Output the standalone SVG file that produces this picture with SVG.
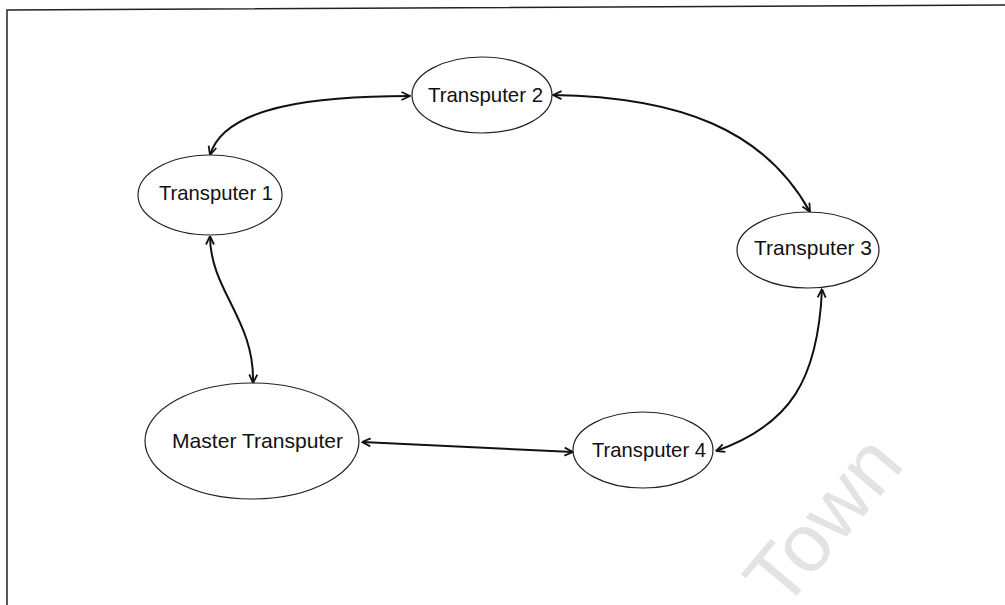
<svg xmlns="http://www.w3.org/2000/svg" width="1005" height="605" viewBox="0 0 1005 605">
<style>
.node ellipse{fill:#fff;stroke:#222;stroke-width:1.2}
.node text{font-family:"Liberation Sans",Arial,sans-serif;font-size:21px;fill:#111;text-anchor:middle}
.conn{fill:none;stroke:#111;stroke-width:2;marker-start:url(#arr);marker-end:url(#arr)}
</style>
<defs>
<marker id="arr" viewBox="0 0 10 10" refX="9.5" refY="5" markerWidth="10" markerHeight="10" markerUnits="userSpaceOnUse" orient="auto-start-reverse">
<path d="M1,1 L9.5,5 L1,9" fill="none" stroke="#111" stroke-width="1.8"/>
</marker>
</defs>
<rect width="1005" height="605" fill="#fff"/>
<path d="M7,605 L7,10 L1005,5" fill="none" stroke="#222" stroke-width="1.5"/>
<text x="783" y="612" transform="rotate(-50 783 612)" font-family="Liberation Sans,Arial,sans-serif" font-size="82" fill="#e3e3e3">Town</text>
<g id="connectors">
<path class="conn" d="M210,155 C225,105 320,96 410,96"/>
<path class="conn" d="M553,95 C680,97 765,130 810,212"/>
<path class="conn" d="M822,289 C818,380 790,425 716,451"/>
<path class="conn" d="M362,442 L573,452"/>
<path class="conn" d="M210,236 C210,290 255,320 253,383"/>
</g>
<g id="t2" class="node"><ellipse cx="482" cy="95" rx="70" ry="38"/><text x="485.5" y="102" textLength="115" lengthAdjust="spacingAndGlyphs">Transputer 2</text></g>
<g id="t1" class="node"><ellipse cx="210" cy="195" rx="72" ry="40"/><text x="216" y="200" textLength="114" lengthAdjust="spacingAndGlyphs">Transputer 1</text></g>
<g id="t3" class="node"><ellipse cx="808" cy="250" rx="71" ry="38"/><text x="813" y="255" textLength="118" lengthAdjust="spacingAndGlyphs">Transputer 3</text></g>
<g id="master" class="node"><ellipse cx="252" cy="441" rx="107" ry="58"/><text x="257.5" y="448" textLength="171" lengthAdjust="spacingAndGlyphs">Master Transputer</text></g>
<g id="t4" class="node"><ellipse cx="643" cy="450" rx="70" ry="38"/><text x="649" y="457" textLength="114" lengthAdjust="spacingAndGlyphs">Transputer 4</text></g>
</svg>
